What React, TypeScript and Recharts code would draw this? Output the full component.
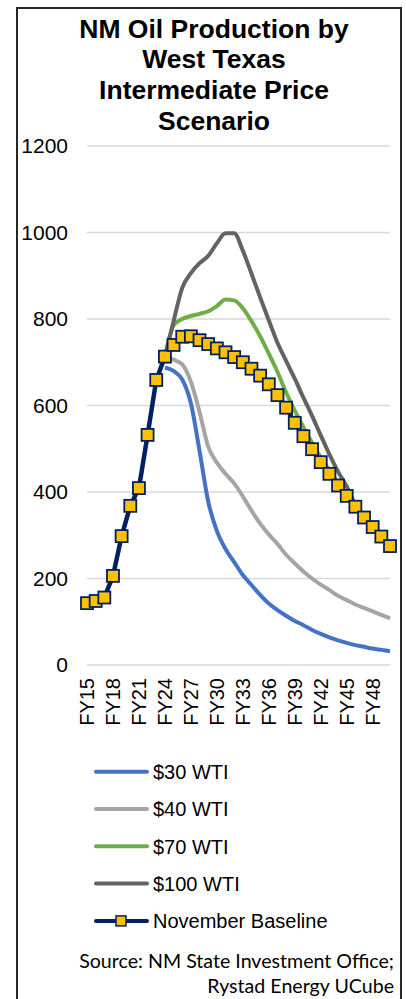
import { CartesianGrid, Line, LineChart, XAxis, YAxis } from 'recharts';

const fiscalYears = [
  'FY15', 'FY16', 'FY17', 'FY18', 'FY19', 'FY20', 'FY21', 'FY22', 'FY23', 'FY24', 'FY25', 'FY26',
  'FY27', 'FY28', 'FY29', 'FY30', 'FY31', 'FY32', 'FY33', 'FY34', 'FY35', 'FY36', 'FY37', 'FY38',
  'FY39', 'FY40', 'FY41', 'FY42', 'FY43', 'FY44', 'FY45', 'FY46', 'FY47', 'FY48', 'FY49', 'FY50',
];

const novemberBaseline = [
  143, 148, 156, 206, 298, 368, 409, 532, 659, 713, 740, 759,
  760, 751, 742, 732, 723, 712, 700, 685, 669, 649, 624, 595,
  560, 529, 499, 469, 442, 415, 391, 366, 341, 319, 297, 275,
];

// price scenarios begin in FY24
const wti30 = [688, 680, 660, 605, 495, 378, 310, 268, 238, 208, 185, 162, 142, 127, 114, 102, 92, 81, 72, 64, 57, 51, 46, 42, 38, 35, 32];
const wti40 = [713, 706, 695, 655, 585, 505, 468, 442, 420, 390, 357, 327, 302, 280, 255, 235, 216, 200, 186, 173, 160, 150, 140, 132, 124, 116, 108];
const wti70 = [713, 785, 800, 807, 812, 818, 830, 845, 843, 825, 795, 760, 720, 678, 630, 588, 550, 514, 480, 450, 421, 394, 368, 343, 320, 298, 276];
const wti100 = [713, 795, 872, 906, 929, 946, 975, 998, 998, 958, 905, 850, 797, 745, 703, 662, 618, 576, 531, 487, 447, 413, 370, 344, 321, 299, 277];

const yTicks = [0, 200, 400, 600, 800, 1000, 1200];

const titleLines = ['NM Oil Production by', 'West Texas', 'Intermediate Price', 'Scenario'];

const series = [
  { key: 'wti30', name: '$30 WTI', color: '#4472C4' },
  { key: 'wti40', name: '$40 WTI', color: '#A5A5A5' },
  { key: 'wti70', name: '$70 WTI', color: '#70AD47' },
  { key: 'wti100', name: '$100 WTI', color: '#636363' },
];

const NAVY = '#002060';
const GOLD = '#FFC000';
const FONT = '"Liberation Sans", Arial, sans-serif';

const offset = fiscalYears.length - wti30.length;
const pick = (arr: number[], i: number) => (i < offset ? null : arr[i - offset]);

const data = fiscalYears.map((fy, i) => ({
  fy,
  baseline: novemberBaseline[i],
  wti30: pick(wti30, i),
  wti40: pick(wti40, i),
  wti70: pick(wti70, i),
  wti100: pick(wti100, i),
}));

function FyTick(props: any) {
  const { x, y, payload } = props;
  return (
    <text
      transform={`translate(${x},${y + 13}) rotate(-90)`}
      textAnchor="end"
      dy="0.36em"
      fontSize={20}
      fontFamily={FONT}
      fill="#000"
    >
      {payload.value}
    </text>
  );
}

function SquareDot(props: any) {
  const { cx, cy, index } = props;
  if (cx == null || cy == null) return <g key={`d-${index}`} />;
  return (
    <rect
      key={`d-${index}`}
      x={cx - 6}
      y={cy - 6}
      width={12}
      height={12}
      fill={GOLD}
      stroke={NAVY}
      strokeWidth={1.8}
    />
  );
}

export default function App() {
  const legendItems = [...series.map((s) => ({ name: s.name, color: s.color, marker: false })), { name: 'November Baseline', color: NAVY, marker: true }];

  return (
    <div style={{ position: 'absolute', left: 0, top: 0, width: 406, height: 999, overflow: 'hidden', background: '#fff' }}>
      <div
        style={{
          position: 'absolute',
          left: 16,
          top: 7,
          width: 382,
          height: 1010,
          border: '2px solid #262626',
        }}
      />

      <div style={{ position: 'absolute', left: 0, top: 0 }}>
        <LineChart width={406} height={745} data={data} margin={{ top: 146, right: 16, left: 0, bottom: 0 }}>
          <CartesianGrid vertical={false} stroke="#D9D9D9" strokeWidth={1.5} />
          <XAxis
            dataKey="fy"
            height={80}
            interval={2}
            axisLine={false}
            tickLine={false}
            tickSize={0}
            tickMargin={0}
            tick={<FyTick />}
          />
          <YAxis
            width={87}
            domain={[0, 1200]}
            ticks={yTicks}
            axisLine={false}
            tickLine={false}
            tickSize={0}
            tickMargin={19}
            tick={{ fill: '#000', fontSize: 21, fontFamily: FONT }}
          />
          {series.map((s) => (
            <Line
              key={s.key}
              dataKey={s.key}
              name={s.name}
              type="monotone"
              stroke={s.color}
              strokeWidth={4}
              strokeLinejoin="round"
              dot={false}
              connectNulls={false}
              isAnimationActive={false}
            />
          ))}
          <Line
            dataKey="baseline"
            name="November Baseline"
            type="linear"
            stroke={NAVY}
            strokeWidth={4.5}
            strokeLinejoin="round"
            dot={SquareDot}
            isAnimationActive={false}
          />
        </LineChart>
      </div>

      <svg width={406} height={999} style={{ position: 'absolute', left: 0, top: 0, pointerEvents: 'none' }}>
        {titleLines.map((line, i) => (
          <text key={line} x={214} y={37.5 + i * 30.7} textAnchor="middle" fontFamily={FONT} fontWeight="bold" fontSize={26.5} fill="#000">
            {line}
          </text>
        ))}

        {legendItems.map((item, i) => {
          const cy = 771.7 + i * 37.3;
          return (
            <g key={item.name}>
              <line x1={96} x2={147} y1={cy} y2={cy} stroke={item.color} strokeWidth={4} strokeLinecap="round" />
              {item.marker && <rect x={116} y={cy - 5} width={10} height={10} fill={GOLD} stroke={NAVY} strokeWidth={1.5} />}
              <text x={153} y={cy} dy="0.36em" fontFamily={FONT} fontSize={20} fill="#000">
                {item.name}
              </text>
            </g>
          );
        })}

        <text x={394} y={968} textAnchor="end" fontFamily="Lato, sans-serif" fontSize={19.6} fill="#000">
          Source: NM State Investment Office;
        </text>
        <text x={394} y={993} textAnchor="end" fontFamily="Lato, sans-serif" fontSize={19.6} fill="#000">
          Rystad Energy UCube
        </text>
      </svg>
    </div>
  );
}
